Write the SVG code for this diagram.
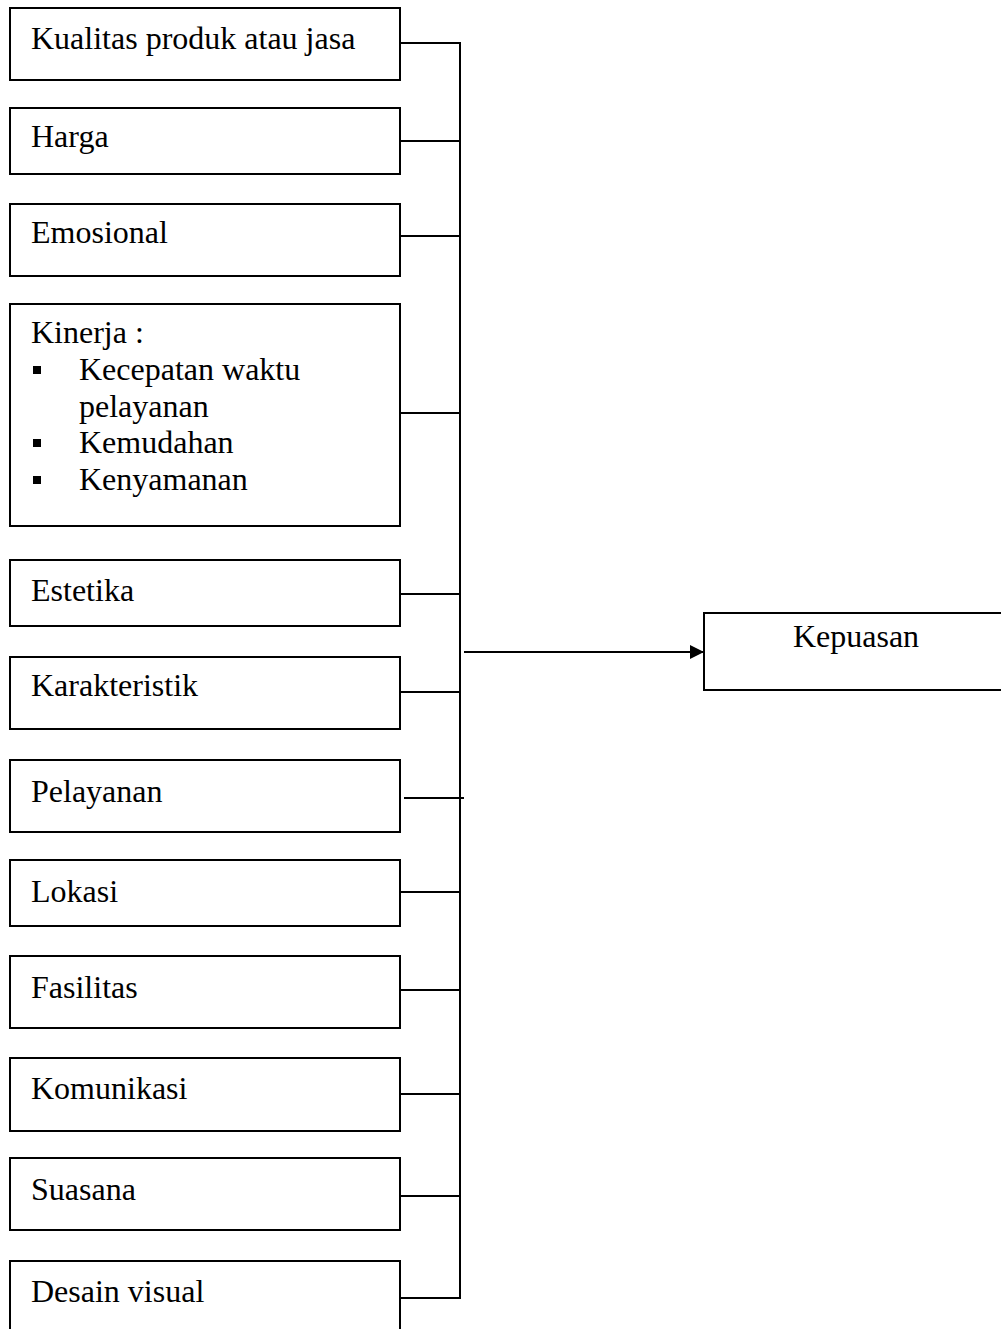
<svg xmlns="http://www.w3.org/2000/svg" width="1001" height="1329" viewBox="0 0 1001 1329">
<defs>
<style>
.box{fill:#fff;stroke:#000;stroke-width:2}
.t{font-family:"Liberation Serif","Times New Roman",serif;font-size:32px;fill:#000}
.ln{stroke:#000;stroke-width:2;fill:none}
</style>
<marker id="ah" markerWidth="14" markerHeight="14" refX="14" refY="7" orient="auto" markerUnits="userSpaceOnUse"><path d="M0,0 L14,7 L0,14 Z" fill="#000"/></marker>
</defs>
<rect width="1001" height="1329" fill="#fff"/>
<g id="n1"><rect class="box" x="10" y="8" width="390" height="72"/><text class="t" x="31" y="49">Kualitas produk atau jasa</text></g>
<g id="n2"><rect class="box" x="10" y="108" width="390" height="66"/><text class="t" x="31" y="147">Harga</text></g>
<g id="n3"><rect class="box" x="10" y="204" width="390" height="72"/><text class="t" x="31" y="243">Emosional</text></g>
<g id="n4"><rect class="box" x="10" y="304" width="390" height="222"/>
<text class="t" x="31" y="343">Kinerja :</text>
<rect x="33" y="366" width="8" height="8" fill="#000"/>
<text class="t" x="79" y="380">Kecepatan waktu</text>
<text class="t" x="79" y="417">pelayanan</text>
<rect x="33" y="439" width="8" height="8" fill="#000"/>
<text class="t" x="79" y="453">Kemudahan</text>
<rect x="33" y="476" width="8" height="8" fill="#000"/>
<text class="t" x="79" y="490">Kenyamanan</text>
</g>
<g id="n5"><rect class="box" x="10" y="560" width="390" height="66"/><text class="t" x="31" y="601">Estetika</text></g>
<g id="n6"><rect class="box" x="10" y="657" width="390" height="72"/><text class="t" x="31" y="696">Karakteristik</text></g>
<g id="n7"><rect class="box" x="10" y="760" width="390" height="72"/><text class="t" x="31" y="802">Pelayanan</text></g>
<g id="n8"><rect class="box" x="10" y="860" width="390" height="66"/><text class="t" x="31" y="902">Lokasi</text></g>
<g id="n9"><rect class="box" x="10" y="956" width="390" height="72"/><text class="t" x="31" y="998">Fasilitas</text></g>
<g id="n10"><rect class="box" x="10" y="1058" width="390" height="73"/><text class="t" x="31" y="1099">Komunikasi</text></g>
<g id="n11"><rect class="box" x="10" y="1158" width="390" height="72"/><text class="t" x="31" y="1200">Suasana</text></g>
<g id="n12"><path class="ln" d="M10,1329 V1261 H400 V1329"/><text class="t" x="31" y="1302">Desain visual</text></g>
<g id="n13"><path class="ln" d="M1001,613 H704 V690 H1001"/><text class="t" x="856" y="647" text-anchor="middle">Kepuasan</text></g>
<g id="connectors">
<path class="ln" d="M460,43 V1299"/>
<path class="ln" d="M400,43 H461"/>
<path class="ln" d="M400,141 H461"/>
<path class="ln" d="M400,236 H461"/>
<path class="ln" d="M400,413 H461"/>
<path class="ln" d="M400,594 H461"/>
<path class="ln" d="M400,692 H461"/>
<path class="ln" d="M404,798 H464"/>
<path class="ln" d="M400,892 H461"/>
<path class="ln" d="M400,990 H461"/>
<path class="ln" d="M400,1094 H461"/>
<path class="ln" d="M400,1196 H461"/>
<path class="ln" d="M400,1298 H461"/>
<path class="ln" d="M464,652 H704" marker-end="url(#ah)"/>
</g>
</svg>
